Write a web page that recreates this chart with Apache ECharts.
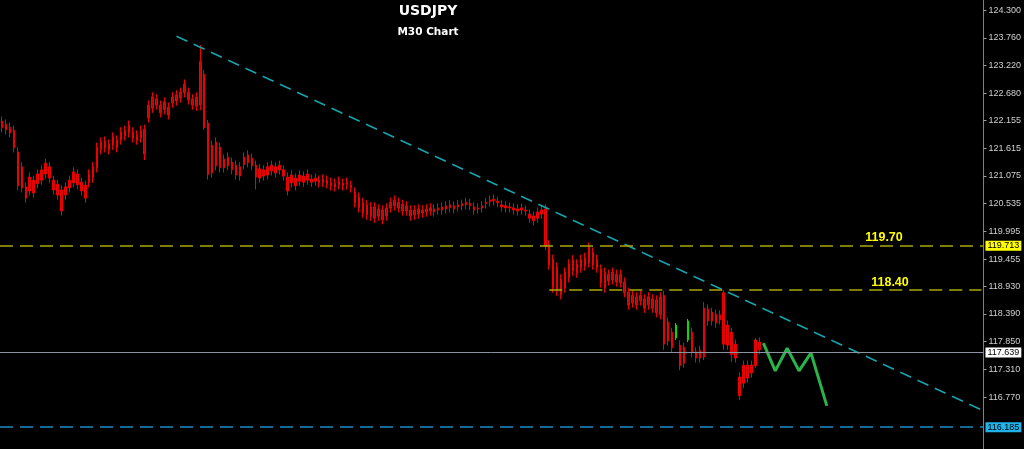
<!DOCTYPE html>
<html>
<head>
<meta charset="utf-8">
<script src="https://cdn.jsdelivr.net/npm/echarts@6/dist/echarts.min.js"></script>
<style>
html,body{margin:0;padding:0;background:#000;}
#chart{width:1024px;height:449px;}
</style>
</head>
<body>
<div id="chart"></div>
<script>
// ---- data ----
const titleText = 'USDJPY';
const subTitleText = 'M30 Chart';
const slotCount = 248;
const tickValues = [124.300,123.760,123.220,122.680,122.155,121.615,121.075,120.535,119.995,119.455,118.930,118.390,117.850,117.310,116.770];
// [open, close, low, high]
const candles = [
[122.14,122.01,121.92,122.23],[122.08,121.97,121.88,122.17],[122.02,121.91,121.82,122.11],[121.96,121.62,121.53,122.05],
[121.54,120.88,120.79,121.63],[121.25,120.84,120.75,121.34],[120.86,120.64,120.55,120.95],[120.78,121.05,120.69,121.14],
[120.99,120.74,120.65,121.08],[120.92,121.11,120.83,121.20],[120.99,121.19,120.90,121.28],[121.11,121.32,121.02,121.41],
[121.25,121.03,120.94,121.34],[120.99,120.80,120.71,121.08],[120.91,120.70,120.61,121.00],[120.80,120.39,120.30,120.89],
[120.70,120.86,120.61,120.95],[120.84,120.99,120.75,121.08],[120.94,121.15,120.85,121.24],[121.11,120.90,120.81,121.20],
[120.95,120.78,120.69,121.04],[120.89,120.64,120.55,120.98],[120.94,121.11,120.85,121.20],[121.03,121.25,120.94,121.34],
[121.23,121.63,121.14,121.72],[121.58,121.73,121.49,121.82],[121.75,121.62,121.53,121.84],[121.58,121.69,121.49,121.78],
[121.67,121.83,121.58,121.92],[121.77,121.62,121.53,121.86],[121.77,121.93,121.68,122.02],[121.85,121.96,121.76,122.05],
[121.91,122.06,121.82,122.15],[121.93,121.81,121.72,122.02],[121.87,121.77,121.68,121.96],[121.81,121.96,121.72,122.05],
[121.50,121.98,121.38,122.07],[122.20,122.45,122.11,122.54],[122.39,122.61,122.30,122.70],[122.57,122.45,122.36,122.66],
[122.45,122.30,122.21,122.54],[122.36,122.51,122.27,122.60],[122.41,122.26,122.17,122.50],[122.49,122.61,122.40,122.70],
[122.53,122.65,122.44,122.74],[122.59,122.70,122.50,122.79],[122.69,122.86,122.60,122.95],[122.70,122.55,122.46,122.79],
[122.57,122.45,122.36,122.66],[122.43,122.61,122.34,122.70],[122.45,123.30,122.35,123.62],[123.05,122.01,121.97,123.13],
[122.10,121.10,121.00,122.16],[121.67,121.13,121.04,121.76],[121.27,121.73,121.18,121.82],[121.63,121.23,121.14,121.72],
[121.40,121.23,121.14,121.49],[121.27,121.44,121.18,121.53],[121.34,121.19,121.10,121.43],[121.28,121.09,121.00,121.37],
[121.07,121.25,120.98,121.34],[121.29,121.44,121.20,121.53],[121.48,121.33,121.24,121.57],[121.42,121.27,121.18,121.51],
[121.28,121.05,120.81,121.37],[121.03,121.21,120.94,121.30],[121.19,121.07,120.98,121.28],[121.09,121.25,121.00,121.34],
[121.17,121.28,121.08,121.37],[121.25,121.13,121.04,121.34],[121.19,121.28,121.10,121.37],[121.19,121.07,120.98,121.28],
[121.05,120.78,120.69,121.14],[120.94,121.09,120.85,121.18],[121.03,120.88,120.79,121.12],[120.97,121.09,120.88,121.18],
[121.07,120.95,120.86,121.16],[120.99,121.11,120.90,121.20],[121.01,120.95,120.86,121.10],[120.97,121.03,120.88,121.12],
[120.99,120.94,120.85,121.08],[120.95,121.01,120.86,121.10],[120.99,120.92,120.83,121.08],[120.95,120.88,120.79,121.04],
[120.93,120.86,120.77,121.02],[120.90,120.97,120.81,121.06],[120.93,120.88,120.79,121.02],[120.90,120.95,120.81,121.04],
[120.89,120.84,120.75,120.98],[120.76,120.55,120.46,120.85],[120.66,120.45,120.36,120.75],[120.56,120.35,120.26,120.65],
[120.31,120.51,120.22,120.60],[120.47,120.29,120.20,120.56],[120.25,120.47,120.16,120.56],[120.43,120.29,120.20,120.52],
[120.22,120.41,120.13,120.50],[120.29,120.45,120.20,120.54],[120.45,120.56,120.36,120.65],[120.60,120.49,120.40,120.69],
[120.56,120.45,120.36,120.65],[120.52,120.39,120.30,120.61],[120.39,120.49,120.30,120.58],[120.41,120.29,120.20,120.50],
[120.31,120.41,120.22,120.50],[120.43,120.33,120.24,120.52],[120.35,120.41,120.26,120.50],[120.43,120.37,120.28,120.52],
[120.39,120.45,120.30,120.54],[120.43,120.37,120.28,120.52],[120.41,120.45,120.32,120.54],[120.47,120.41,120.32,120.56],
[120.43,120.49,120.34,120.58],[120.51,120.45,120.36,120.60],[120.43,120.49,120.34,120.58],[120.47,120.51,120.38,120.60],
[120.49,120.53,120.40,120.61],[120.56,120.51,120.42,120.65],[120.49,120.54,120.40,120.63],[120.47,120.41,120.32,120.56],
[120.43,120.45,120.34,120.54],[120.45,120.49,120.36,120.58],[120.53,120.56,120.44,120.65],[120.57,120.60,120.48,120.69],
[120.62,120.59,120.50,120.71],[120.58,120.55,120.46,120.67],[120.51,120.47,120.38,120.60],[120.45,120.49,120.36,120.58],
[120.47,120.45,120.36,120.56],[120.45,120.41,120.32,120.54],[120.39,120.43,120.30,120.52],[120.45,120.41,120.32,120.54],
[120.41,120.39,120.30,120.50],[120.33,120.25,120.16,120.42],[120.29,120.20,120.11,120.38],[120.25,120.37,120.16,120.46],
[120.33,120.41,120.24,120.50],[120.43,119.70,119.63,120.52],[119.73,119.34,119.25,119.82],[119.45,118.90,118.80,119.54],
[119.30,118.84,118.74,119.39],[119.07,118.76,118.67,119.16],[118.89,119.20,118.80,119.29],[119.09,119.36,119.00,119.45],
[119.22,119.44,119.13,119.53],[119.36,119.18,119.09,119.45],[119.28,119.45,119.19,119.54],[119.32,119.49,119.23,119.58],
[119.38,119.69,119.29,119.78],[119.59,119.34,119.25,119.68],[119.45,119.28,119.19,119.54],[119.26,118.99,118.90,119.35],
[119.20,118.89,118.80,119.29],[119.03,119.16,118.94,119.25],[119.05,119.20,118.96,119.29],[119.16,119.01,118.92,119.25],
[119.16,118.99,118.90,119.25],[119.01,118.80,118.71,119.10],[118.81,118.56,118.47,118.90],[118.60,118.75,118.51,118.84],
[118.72,118.56,118.47,118.81],[118.64,118.75,118.55,118.84],[118.68,118.50,118.41,118.77],[118.56,118.72,118.47,118.81],
[118.68,118.50,118.41,118.77],[118.66,118.41,118.32,118.75],[118.37,118.72,118.28,118.81],[118.75,117.80,117.69,118.84],
[118.23,117.86,117.77,118.32],[118.03,117.73,117.64,118.12],null,[117.78,117.38,117.29,117.87],
[117.74,117.43,117.34,117.83],null,[118.03,117.63,117.54,118.12],[117.65,117.53,117.44,117.74],
[117.53,117.68,117.44,117.77],[117.55,118.50,117.49,118.62],[118.48,118.25,118.16,118.57],[118.25,118.42,118.16,118.51],
[118.38,118.21,118.12,118.47],[118.27,118.37,118.18,118.46],[118.80,117.80,117.69,118.85],[118.17,117.78,117.69,118.26],
[118.03,117.60,117.45,118.12],[117.80,117.53,117.44,117.89],[117.16,116.80,116.71,117.25],[117.04,117.39,116.95,117.48],
[117.39,117.14,117.05,117.48],[117.24,117.39,117.15,117.48],[117.38,117.88,117.34,117.92],[117.84,117.69,117.60,117.93]
];
// [slot, open, close, low, high]
const greenCandles = [[170,117.92,118.17,117.88,118.21],[173,117.88,118.25,117.84,118.29]];
const trendSlots = [44, 247];
const trendPrices = [123.79, 116.52];
const forecastSlots = [192, 195, 198, 201, 204, 208];
const forecastPrices = [117.82, 117.28, 117.72, 117.28, 117.63, 116.60];
const levelResistance = 119.713;
const levelSupport = 118.85;
const supportStartSlot = 138;
const levelCurrent = 117.639;
const levelTarget = 116.185;
const noteResistance = '119.70';
const noteSupport = '118.40';
const yMin = 115.76, yMax = 124.495;

// ---- build ----
const categories = Array.from({length: slotCount}, (_, i) => String(i));
const redData = candles.map(c => c ? c : '-');
const greenData = candles.map(() => '-');
greenCandles.forEach(g => { greenData[g[0]] = g.slice(1); });
const trendData = trendSlots.map((s, i) => [s, trendPrices[i]]);
const forecastData = forecastSlots.map((s, i) => [s, forecastPrices[i]]);

const RED = '#cc0000';
const chart = echarts.init(document.getElementById('chart'), null, {renderer: 'canvas'});

function boxLabel(level, bg) {
  return {
    show: true, position: 'end', distance: 2,
    formatter: () => level.toFixed(3),
    backgroundColor: bg, color: '#000', fontSize: 9,
    fontFamily: 'Liberation Sans', padding: [1, 2, 0, 2], lineHeight: 9
  };
}

chart.setOption({
  backgroundColor: '#000',
  animation: false,
  grid: {left: 0, right: 34, top: 0, bottom: 0, containLabel: false},
  xAxis: {
    type: 'category', data: categories, boundaryGap: true,
    axisLine: {show: false}, axisTick: {show: false}, axisLabel: {show: false}, splitLine: {show: false}
  },
  yAxis: {
    type: 'value', position: 'right', min: yMin, max: yMax, scale: true,
    splitLine: {show: false},
    axisLine: {show: true, lineStyle: {color: '#808080', width: 1}},
    axisTick: {show: true, customValues: tickValues, length: 3, inside: false, lineStyle: {color: '#a0a0a0'}},
    axisLabel: {
      customValues: tickValues, formatter: v => v.toFixed(3),
      color: '#d0d0d0', fontSize: 9, fontFamily: 'Liberation Sans', margin: 5
    }
  },
  series: [
    {
      type: 'candlestick', name: 'bars', data: redData, barWidth: 2,
      itemStyle: {color: RED, color0: RED, borderColor: '#ee0000', borderColor0: '#ee0000', borderWidth: 1},
      z: 2,
      markLine: {
        silent: true, symbol: ['none', 'none'], animation: false, z: 5, precision: 3,
        data: [
          {yAxis: levelResistance, lineStyle: {color: '#a8a800', type: [13, 7], width: 1.5}, label: boxLabel(levelResistance, '#ffff00')},
          {yAxis: levelCurrent, lineStyle: {color: '#8c93a0', type: 'solid', width: 1}, label: boxLabel(levelCurrent, '#ffffff')},
          {yAxis: levelTarget, lineStyle: {color: '#1a8fc4', type: [13, 7], width: 1.5}, label: boxLabel(levelTarget, '#21b2ea')},
          [
            {coord: [supportStartSlot, levelSupport], lineStyle: {color: '#a8a800', type: [13, 7], width: 1.5}, label: {show: false}},
            {coord: [slotCount - 1, levelSupport]}
          ]
        ]
      }
    },
    {
      type: 'candlestick', name: 'bull', data: greenData, barWidth: 2,
      itemStyle: {color: '#00d000', color0: '#00d000', borderColor: '#00e000', borderColor0: '#00e000', borderWidth: 1},
      z: 2
    },
    {
      type: 'line', name: 'trend', data: trendData, symbol: 'none', silent: true,
      lineStyle: {color: '#17a4ad', width: 1.5, type: [12, 7]}, z: 4
    },
    {
      type: 'line', name: 'forecast', data: forecastData, symbol: 'none', silent: true,
      lineStyle: {color: '#2bb34b', width: 3}, z: 4
    }
  ]
});

const yRes = chart.convertToPixel({yAxisIndex: 0}, levelResistance);
const ySup = chart.convertToPixel({yAxisIndex: 0}, levelSupport);
chart.setOption({
  graphic: [
    {type: 'text', x: 428, y: 11, silent: true, style: {text: titleText, fill: '#ffffff', font: 'bold 14px "DejaVu Sans"', textAlign: 'center', textVerticalAlign: 'middle'}},
    {type: 'text', x: 428, y: 32, silent: true, style: {text: subTitleText, fill: '#ffffff', font: 'bold 10.5px "DejaVu Sans"', textAlign: 'center', textVerticalAlign: 'middle'}},
    {type: 'text', x: 884, y: yRes - 8, silent: true, style: {text: noteResistance, fill: '#ffff00', font: 'bold 12.5px "Liberation Sans"', textAlign: 'center', textVerticalAlign: 'middle'}},
    {type: 'text', x: 890, y: ySup - 7.5, silent: true, style: {text: noteSupport, fill: '#ffff00', font: 'bold 12.5px "Liberation Sans"', textAlign: 'center', textVerticalAlign: 'middle'}}
  ]
});
</script>
</body>
</html>
